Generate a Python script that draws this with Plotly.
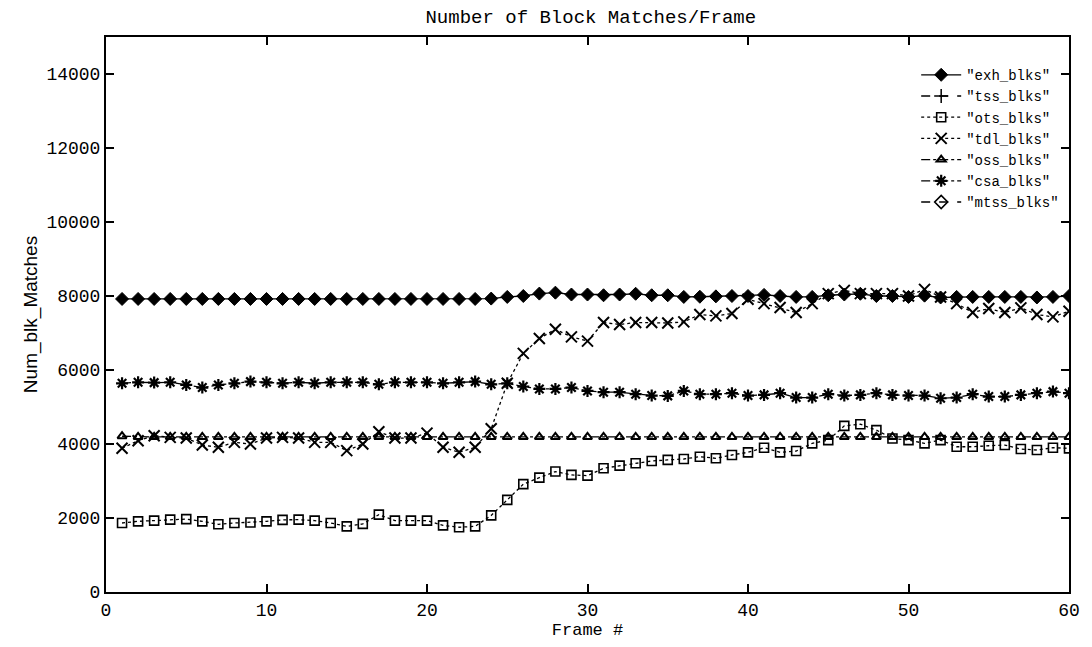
import plotly.graph_objects as go

frames = list(range(1, 61))

exh_blks = [7920] * 23 + [
    7930, 7975, 8000, 8065, 8090, 8040, 8040,
    8020, 8040, 8060, 8020, 8020, 7975, 7980, 7990, 8000, 8000,
    8030, 8000, 7975, 7975, 8020, 8040, 8060, 8000, 8000, 7975,
    8010, 7960, 7975, 7975, 7975, 7975, 7975, 7960, 7975, 8000]

tss_blks = [None]

ots_blks = [1865, 1910, 1930, 1955, 1970, 1910, 1830, 1865, 1880, 1910,
            1950, 1955, 1930, 1865, 1775, 1840, 2090, 1930, 1930, 1930,
            1800, 1750, 1775, 2070, 2490, 2915, 3090, 3255, 3165, 3145,
            3345, 3415, 3480, 3540, 3570, 3595, 3657, 3613, 3703, 3775,
            3900, 3775, 3810, 4017, 4106, 4490, 4535, 4375, 4150, 4106,
            4017, 4106, 3926, 3926, 3953, 3971, 3864, 3837, 3900, 3882]

tdl_blks = [3883, 4090, 4225, 4180, 4160, 3973, 3910, 4045, 4000, 4160,
            4180, 4160, 4045, 4045, 3820, 4000, 4330, 4160, 4160, 4295,
            3910, 3775, 3910, 4413, 5640, 6450, 6850, 7100, 6895, 6780,
            7283, 7230, 7283, 7283, 7270, 7300, 7500, 7462, 7526, 7911,
            7795, 7688, 7553, 7795, 8065, 8153, 8065, 8065, 8065, 8000,
            8180, 7975, 7795, 7553, 7660, 7553, 7680, 7500, 7435, 7590]

oss_blks = [4210] + [4190] * 59

csa_blks = [5641, 5668, 5659, 5668, 5596, 5525, 5596, 5641, 5686, 5668,
            5641, 5668, 5641, 5668, 5668, 5668, 5614, 5668, 5668, 5668,
            5641, 5668, 5686, 5614, 5641, 5552, 5489, 5489, 5525, 5435,
            5400, 5400, 5346, 5310, 5300, 5435, 5346, 5346, 5373, 5310,
            5327, 5373, 5255, 5255, 5346, 5310, 5327, 5373, 5327, 5310,
            5310, 5237, 5255, 5346, 5282, 5282, 5327, 5373, 5416, 5373]

mtss_blks = [None]

x_ticks = [0, 10, 20, 30, 40, 50, 60]
y_ticks = [0, 2000, 4000, 6000, 8000, 10000, 12000, 14000]

series = [
    ('"exh_blks"', exh_blks, "solid", "diamond", 10, 1),
    ('"tss_blks"', tss_blks, "dash", "cross-thin", 10, 1.5),
    ('"ots_blks"', ots_blks, "dot", "square-open", 9, 1.6),
    ('"tdl_blks"', tdl_blks, "dot", "x-thin", 11, 2),
    ('"oss_blks"', oss_blks, "dashdot", "triangle-up-open", 8, 2),
    ('"csa_blks"', csa_blks, "dashdot", "asterisk-open", 10, 2.2),
    ('"mtss_blks"', mtss_blks, "dash", "diamond-open", 10, 1.6),
]

fig = go.Figure()
for name, vals, dash, sym, size, lw in series:
    fig.add_trace(go.Scatter(
        x=frames[:len(vals)], y=vals, name=name, mode="lines+markers",
        line=dict(color="black", width=1.3, dash=dash),
        marker=dict(symbol=sym, size=size, color="black",
                    line=dict(color="black", width=lw)),
        showlegend=True,
    ))

mono = "Liberation Mono"
fig.update_layout(
    width=1092, height=647,
    paper_bgcolor="white", plot_bgcolor="white",
    margin=dict(l=106, r=16, t=37, b=55),
    title=dict(text="Number of Block Matches/Frame", x=0.541, xanchor="center",
               y=0.975, yanchor="middle",
               font=dict(family=mono, size=19, color="black")),
    font=dict(family=mono, color="black"),
    legend=dict(x=0.995, xanchor="right", y=0.96, yanchor="top",
                bgcolor="rgba(0,0,0,0)", borderwidth=0,
                font=dict(family=mono, size=14, color="black"),
                tracegroupgap=0, itemwidth=40),
    showlegend=True,
)
fig.update_xaxes(
    range=[0, 60], tickvals=x_ticks, ticktext=[str(v) for v in x_ticks],
    ticks="inside", ticklen=8, tickwidth=1.5, tickcolor="black",
    showline=True, linecolor="black", linewidth=2, mirror="allticks",
    showgrid=False, zeroline=False,
    tickfont=dict(family=mono, size=18, color="black"),
    title=dict(text="Frame #", standoff=2, font=dict(family=mono, size=17, color="black")),
)
fig.update_yaxes(
    range=[0, 15000], tickvals=y_ticks, ticktext=[str(v) for v in y_ticks],
    ticks="inside", ticklen=8, tickwidth=1.5, tickcolor="black",
    showline=True, linecolor="black", linewidth=2, mirror="allticks",
    showgrid=False, zeroline=False,
    tickfont=dict(family=mono, size=18, color="black"),
    title=dict(text="Num_blk_Matches", standoff=4,
               font=dict(family="Liberation Sans", size=19, color="black")),
)

fig.write_html("out.html")
